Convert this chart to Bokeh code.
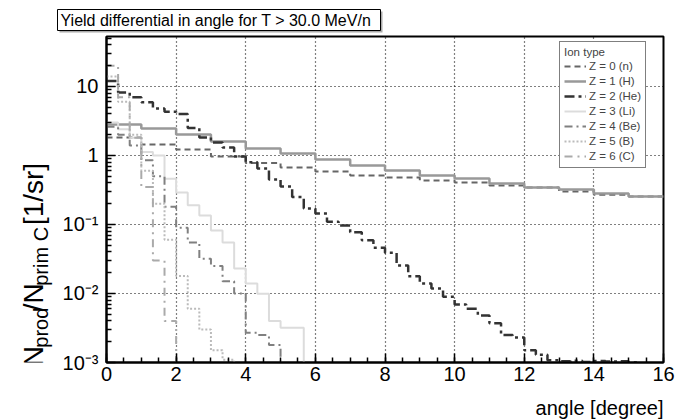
import math
from bokeh.plotting import figure
from bokeh.layouts import column, row
from bokeh.models import FixedTicker, Legend, LegendItem, ColumnDataSource
from bokeh.core.properties import value
from bokeh.embed import file_html
from bokeh.resources import INLINE

# ---------------- data ----------------
# Z = 0 (n) and Z = 1 (H): 1-degree bins from 0 to 16 deg
n_vals = [1.82, 1.44, 1.22, 0.97, 0.78, 0.67, 0.586, 0.513, 0.48, 0.434,
          0.406, 0.367, 0.344, 0.30, 0.27, 0.255]
h_vals = [2.81, 2.46, 2.01, 1.60, 1.26, 1.07, 0.875, 0.716, 0.607, 0.513,
          0.464, 0.393, 0.344, 0.321, 0.281, 0.255]
# Z >= 2: 1/3-degree bins starting at 0 deg
he_vals = [12, 8.2, 7.0, 5.9, 4.8, 4.3, 4.0, 2.5, 1.82, 1.54, 1.31, 0.97,
           0.80, 0.65, 0.45, 0.355, 0.25, 0.17, 0.144, 0.11, 0.097, 0.077,
           0.059, 0.046, 0.039, 0.0255, 0.0178, 0.014, 0.0118, 0.009,
           0.0069, 0.006, 0.0048, 0.0037, 0.0025, 0.0023, 0.0015, 0.0013,
           0.00108, 0.00104, 0.00106, 0.00102, 0.00105, 0.00103, 0.00104,
           0.00101]
li_vals = [3.0, 2.4, 1.8, 1.12, 1.0, 0.46, 0.29, 0.19, 0.135, 0.082, 0.055,
           0.023, 0.014, 0.0099, 0.0040, 0.0032, 0.0032]
be_vals = [2.6, 2.0, 1.4, 0.85, 0.5, 0.18, 0.09, 0.055, 0.032, 0.025, 0.015,
           0.010, 0.0027, 0.0025, 0.0018]
b_vals = [14, 6, 2.0, 0.6, 0.2, 0.06, 0.018, 0.006, 0.003, 0.0015, 0.0011]
c_vals = [20, 7, 1.8, 0.35, 0.03, 0.004]

series_labels = ["Z = 0 (n)", "Z = 1 (H)", "Z = 2 (He)", "Z = 3 (Li)",
                 "Z = 4 (Be)", "Z = 5 (B)", "Z = 6 (C)"]
x_ticks = [0, 2, 4, 6, 8, 10, 12, 14, 16]
y_ticks = [1e-3, 1e-2, 1e-1, 1, 10]
y_tick_labels = ["10\u207b\u00b3", "10\u207b\u00b2", "10\u207b\u00b9", "1", "10"]
title_text = "Yield differential in angle for T > 30.0 MeV/n"
x_title = "angle [degree]"
y_title_parts = ["N", "prod", "/N", "prim C", "[1/sr]"]
legend_title = "Ion type"

FONT = "Liberation Sans"
FLOOR = 1e-6  # lets a histogram drop out of the frame after its last bin

W, H = 696, 420
TOP_H = 34        # title strip
BOT_H = 28        # x-title strip
LEFT_W = 56       # y-title strip
MID_H = H - TOP_H - BOT_H


def blank(width, height):
    f = figure(width=width, height=height, output_backend="svg",
               toolbar_location=None, x_range=(0, width),
               y_range=(0, height), x_axis_location=None,
               y_axis_location=None, min_border=0)
    f.outline_line_color = None
    f.grid.grid_line_color = None
    f.background_fill_color = "white"
    f.border_fill_color = "white"
    return f


# ---------------- main plot ----------------
p = figure(width=W - LEFT_W, height=MID_H, output_backend="svg",
           toolbar_location=None, y_axis_type="log", x_range=(0, 16),
           y_range=(1e-3, 53), min_border_left=106 - LEFT_W,
           min_border_right=W - 663, min_border_top=36 - TOP_H,
           min_border_bottom=TOP_H + MID_H - 362)
p.outline_line_color = "black"
p.outline_line_width = 2
p.background_fill_color = "white"
p.border_fill_color = "white"


def hist_xy(vals, width, drop):
    xs = [i * width for i in range(len(vals) + 1)]
    ys = list(vals) + ([FLOOR] if drop else [vals[-1]])
    return xs, ys


styles = [
    (n_vals, 1.0, False, "#666666", 2, "6 4"),
    (h_vals, 1.0, False, "#999999", 2.5, "solid"),
    (he_vals, 1 / 3, True, "#333333", 2.5, "10 4 3 4"),
    (li_vals, 1 / 3, True, "#dcdcdc", 2, "solid"),
    (be_vals, 1 / 3, True, "#808080", 2, "8 4 2 4"),
    (b_vals, 1 / 3, True, "#bbbbbb", 2, "2 2"),
    (c_vals, 1 / 3, True, "#aaaaaa", 2, "8 5 2 5"),
]

renderers = []
for vals, w, drop, color, lw, dash in styles:
    xs, ys = hist_xy(vals, w, drop)
    r = p.step(xs, ys, mode="after", line_color=color, line_width=lw,
               line_dash=dash)
    renderers.append(r)

p.xaxis.ticker = FixedTicker(ticks=x_ticks,
                             minor_ticks=[i * 0.5 for i in range(33)])
minor_y = [k * 10 ** e for e in range(-3, 2) for k in range(2, 10)]
p.yaxis.ticker = FixedTicker(ticks=y_ticks, minor_ticks=minor_y)
p.yaxis.major_label_overrides = {t: l for t, l in zip(y_ticks, y_tick_labels)}
for ax in (p.xaxis[0], p.yaxis[0]):
    ax.axis_line_width = 2
    ax.axis_line_color = "black"
    ax.major_tick_in = 9
    ax.major_tick_out = 0
    ax.minor_tick_in = 5
    ax.minor_tick_out = 0
    ax.major_tick_line_color = "black"
    ax.minor_tick_line_color = "black"
    ax.major_tick_line_width = 1.5
    ax.minor_tick_line_width = 1.5
    ax.major_label_text_font = FONT
    ax.major_label_text_font_size = "20px"
    ax.major_label_text_color = "black"
p.xaxis.major_label_standoff = 4
p.yaxis.major_label_standoff = 8

for g in (p.xgrid[0], p.ygrid[0]):
    g.grid_line_color = "black"
    g.grid_line_dash = "1 3"
    g.grid_line_width = 1.2
p.xgrid.ticker = FixedTicker(ticks=x_ticks)
p.ygrid.ticker = FixedTicker(ticks=y_ticks)

legend = Legend(items=[LegendItem(label=l, renderers=[r])
                       for l, r in zip(series_labels, renderers)],
                location=(559 - 106, 362 - 168), title=legend_title,
                title_text_font=FONT, title_text_font_size="11.5px",
                title_text_font_style="normal", title_standoff=1,
                label_text_font=FONT, label_text_font_size="11.5px",
                label_height=14, glyph_height=14, glyph_width=22,
                label_standoff=3, spacing=1, padding=4, margin=0,
                border_line_color="black", border_line_width=1,
                background_fill_color="white", background_fill_alpha=1)
p.add_layout(legend)

# ---------------- title strip (boxed title with shadow) ----------------
t = blank(W, TOP_H)
t.quad(left=[59], right=[382], bottom=[TOP_H - 32], top=[TOP_H - 11],
       fill_color="#aaaaaa", line_color=None)
t.quad(left=[57], right=[380], bottom=[TOP_H - 30], top=[TOP_H - 9],
       fill_color="white", line_color="black", line_width=1)
t.text(x=[60], y=[TOP_H - 19.5], text=[title_text], text_font=value(FONT),
       text_font_size=value("16px"), text_align="left",
       text_baseline="middle", text_color="black")

# ---------------- y-title strip (rotated, with subscripts) ----------------
em = {"N": .722, "p": .556, "r": .333, "o": .556, "d": .556, "/": .278,
      "i": .222, "m": .833, " ": .278, "C": .722, "[": .278, "1": .556,
      "s": .5, "]": .278}
MAIN, SUB = 28, 20
sizes = [MAIN, SUB, MAIN, SUB, MAIN]
gaps = [0, 0, 0, 0, em[" "] * MAIN]
base_x = [33, 40, 33, 40, 33]
ys, pos = [], (TOP_H + MID_H) - 370 - 26
for txt, s, gap in zip(y_title_parts, sizes, gaps):
    pos += gap
    ys.append(pos)
    pos += sum(em[c] for c in txt) * s
yl = blank(LEFT_W, MID_H)
src = ColumnDataSource(dict(x=base_x, y=ys, text=y_title_parts,
                            size=[f"{s}px" for s in sizes]))
yl.text(x="x", y="y", text="text", source=src, text_font=value(FONT),
        text_font_size="size", angle=math.pi / 2, text_align="left",
        text_baseline="alphabetic", text_color="black")

# ---------------- x-title strip ----------------
xl = blank(W, BOT_H)
xl.text(x=[663], y=[H - 407], text=[x_title], text_font=value(FONT),
        text_font_size=value("20px"), text_align="right",
        text_baseline="alphabetic", text_color="black")

layout = column(t, row(yl, p, spacing=0), xl, spacing=0)
open("out.html", "w").write(file_html(layout, INLINE))
